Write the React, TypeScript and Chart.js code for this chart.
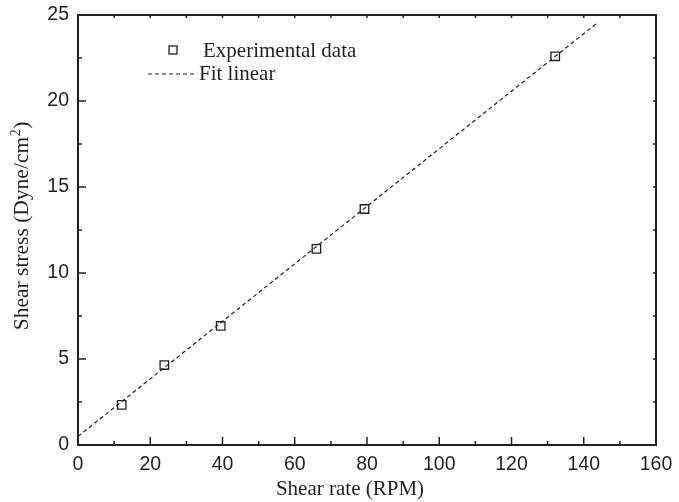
import React, { useEffect, useRef } from "react";
import { Chart, registerables } from "chart.js";

Chart.register(...registerables);

const shearRate = [12.1, 23.9, 39.5, 66.0, 79.3, 132.1];
const shearStress = [2.33, 4.65, 6.92, 11.4, 13.72, 22.6];
const fitX = [0, 143.5];
const fitY = [0.5, 24.5];
const xTicks = [0, 20, 40, 60, 80, 100, 120, 140, 160];
const yTicks = [0, 5, 10, 15, 20, 25];
const seriesLabels = ["Experimental data", "Fit linear"];
const xTitle = "Shear rate (RPM)";
const yTitleMain = "Shear stress (Dyne/cm";
const yTitleSup = "2";
const yTitleEnd = ")";

const INK = "#231f20";
const SERIF = "'Liberation Serif', 'Times New Roman', serif";
const SANS = "'Liberation Sans', Arial, sans-serif";

const framePlugin = {
  id: "frameTicks",
  afterDraw(chart: any) {
    const ctx = chart.ctx;
    const { left, right, top, bottom } = chart.chartArea;
    const xs = chart.scales.x;
    const ys = chart.scales.y;
    ctx.save();
    ctx.strokeStyle = INK;
    ctx.lineWidth = 1.5;
    ctx.beginPath();
    for (let v = 0; v <= 160; v += 10) {
      const px = xs.getPixelForValue(v);
      const major = v % 20 === 0;
      ctx.moveTo(px, bottom);
      ctx.lineTo(px, bottom - (major ? 8 : 4));
      ctx.moveTo(px, top);
      ctx.lineTo(px, top + 3);
    }
    for (let v = 0; v <= 25; v += 2.5) {
      const py = ys.getPixelForValue(v);
      const major = v % 5 === 0;
      ctx.moveTo(left, py);
      ctx.lineTo(left + (major ? 8 : 4), py);
      ctx.moveTo(right, py);
      ctx.lineTo(right - 3, py);
    }
    ctx.stroke();
    ctx.lineWidth = 2;
    ctx.strokeRect(left, top, right - left, bottom - top);

    ctx.fillStyle = INK;
    ctx.font = "21px " + SERIF;
    ctx.textAlign = "center";
    ctx.textBaseline = "alphabetic";
    ctx.fillText(xTitle, 350, 495);

    ctx.save();
    ctx.translate(28, 226);
    ctx.rotate(-Math.PI / 2);
    ctx.font = "21.5px " + SERIF;
    const wMain = ctx.measureText(yTitleMain).width;
    ctx.font = "14px " + SERIF;
    const wSup = ctx.measureText(yTitleSup).width;
    ctx.font = "21.5px " + SERIF;
    const wEnd = ctx.measureText(yTitleEnd).width;
    const total = wMain + wSup + 1 + wEnd;
    let x0 = -total / 2;
    ctx.textAlign = "left";
    ctx.fillText(yTitleMain, x0, 0);
    x0 += wMain + 0.5;
    ctx.font = "14px " + SERIF;
    ctx.fillText(yTitleSup, x0, -8);
    x0 += wSup + 0.5;
    ctx.font = "21.5px " + SERIF;
    ctx.fillText(yTitleEnd, x0, 0);
    ctx.restore();

    ctx.font = "21px " + SERIF;
    ctx.textAlign = "left";
    ctx.lineWidth = 1.3;
    ctx.strokeRect(169, 46, 8, 8);
    ctx.fillText(seriesLabels[0], 203, 57);
    ctx.setLineDash([4, 3]);
    ctx.lineWidth = 1.2;
    ctx.beginPath();
    ctx.moveTo(148, 74);
    ctx.lineTo(197, 74);
    ctx.stroke();
    ctx.setLineDash([]);
    ctx.fillText(seriesLabels[1], 199, 80);
    ctx.restore();
  },
};

export default function App() {
  const ref = useRef<HTMLCanvasElement>(null);
  useEffect(() => {
    document.body.style.margin = "0";
    const chart = new Chart(ref.current!, {
      type: "scatter",
      data: {
        datasets: [
          {
            type: "line",
            label: seriesLabels[1],
            data: fitX.map((x, i) => ({ x, y: fitY[i] })),
            borderColor: INK,
            borderWidth: 1.2,
            borderDash: [4, 3],
            pointRadius: 0,
            fill: false,
          } as any,
          {
            type: "scatter",
            label: seriesLabels[0],
            data: shearRate.map((x, i) => ({ x, y: shearStress[i] })),
            pointStyle: "rect",
            pointRadius: 6,
            pointBorderWidth: 1.3,
            pointBorderColor: INK,
            pointBackgroundColor: "rgba(0,0,0,0)",
            borderColor: INK,
            backgroundColor: "rgba(0,0,0,0)",
          },
        ],
      },
      options: {
        responsive: false,
        animation: false,
        layout: { padding: { left: 0, top: 15, right: 23, bottom: 0 } },
        plugins: { legend: { display: false }, tooltip: { enabled: false } },
        scales: {
          x: {
            type: "linear",
            min: 0,
            max: 160,
            afterBuildTicks: (s: any) => {
              s.ticks = xTicks.map((v) => ({ value: v }));
            },
            afterFit: (s: any) => {
              s.height = 57;
              s.paddingLeft = 0;
              s.paddingRight = 0;
            },
            grid: { display: false, drawTicks: false },
            border: { display: false },
            ticks: {
              padding: 8,
              color: INK,
              font: { family: SANS, size: 19.5 },
              maxRotation: 0,
            },
          },
          y: {
            type: "linear",
            min: 0,
            max: 25,
            afterBuildTicks: (s: any) => {
              s.ticks = yTicks.map((v) => ({ value: v }));
            },
            afterFit: (s: any) => {
              s.width = 78;
              s.paddingTop = 0;
              s.paddingBottom = 0;
            },
            grid: { display: false, drawTicks: false },
            border: { display: false },
            ticks: {
              padding: 9,
              color: INK,
              font: { family: SANS, size: 19.5 },
            },
          },
        },
      },
      plugins: [framePlugin],
    });
    return () => chart.destroy();
  }, []);
  return (
    <div style={{ width: 679, height: 502 }}>
      <canvas ref={ref} width={679} height={502} style={{ display: "block" }} />
    </div>
  );
}
